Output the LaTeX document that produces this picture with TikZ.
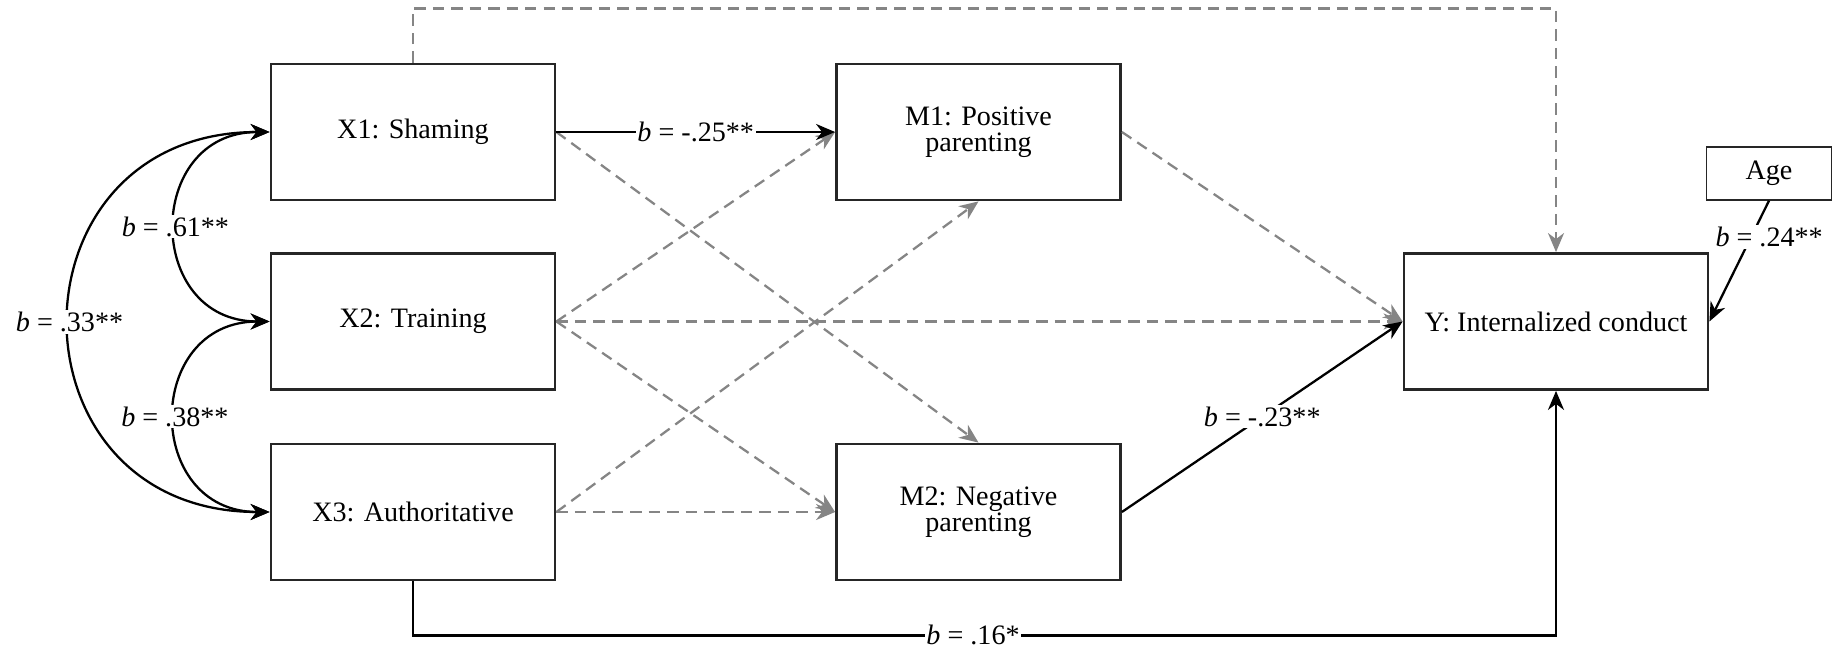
\documentclass[tikz,border=0pt]{standalone}
\usepackage{fontspec}
\setmainfont{Liberation Serif}
\usetikzlibrary{calc,positioning,arrows.meta}
\definecolor{edge}{HTML}{262626}
\definecolor{nsgray}{HTML}{858585}
\tikzset{
  vbx/.style={draw=edge,line width=1.6pt,minimum width=#1,minimum height=2.72cm,align=center,font=\fontsize{16}{14.8}\selectfont},
  vbx/.default=5.68cm,
  flow/.style={-{Stealth[length=3.8mm,width=3.2mm,inset=1.2mm]},black,line width=1.3pt},
  flowns/.style={-{Stealth[length=3.8mm,width=3.2mm,inset=1.2mm]},nsgray,line width=1.3pt,dash pattern=on 6.5pt off 4pt},
  flow2/.style={{Stealth[length=3.8mm,width=3.2mm,inset=1.2mm]}-{Stealth[length=3.8mm,width=3.2mm,inset=1.2mm]},black,line width=1.3pt},
  coef/.style={fill=white,inner sep=1pt,font=\fontsize{16}{16}\selectfont},
}

\begin{document}
\begin{tikzpicture}
\useasboundingbox (0,0) rectangle (36.68,12.92);
% predictors, mediators, outcome
\node[vbx] (x1) at (8.26,10.28) {X1: Shaming};
\node[vbx] (x2) at (8.26,6.49) {X2: Training};
\node[vbx] (x3) at (8.26,2.68) {X3: Authoritative};
\node[vbx] (m1) at (19.57,10.28) {M1: Positive\\parenting};
\node[vbx] (m2) at (19.57,2.68) {M2: Negative\\parenting};
\node[vbx=6.08cm] (y) at (31.12,6.49) {Y: Internalized conduct};
\node[vbx=2.5cm,minimum height=1.06cm,line width=0.8pt] (age) at (35.38,9.45) {Age};
% non-significant paths
\draw[flowns] (x1.east) -- (m2.north);
\draw[flowns] (x2.east) -- (m1.west);
\draw[flowns] (x2.east) -- (m2.west);
\draw[flowns] (x2.east) -- (y.west);
\draw[flowns] (x3.east) -- (m1.south);
\draw[flowns] (x3.east) -- (m2.west);
\draw[flowns] (m1.east) -- (y.west);
\draw[flowns] (x1.north) -- ++(0,1.08) -| (y.north);
% significant paths
\draw[flow] (x1) -- node[coef]{\textit{b} = -.25**} (m1);
\draw[flow] (m2.east) -- node[coef]{\textit{b} = -.23**} (y.west);
\draw[flow] (x3.south) -- ++(0,-1.08) -| node[coef,pos=0.245]{\textit{b} = .16*} (y.south);
\draw[flow] (age.south) -- node[coef,pos=0.3,xshift=0.36cm]{\textit{b} = .24**} (y.east);
% covariances
\draw[flow2] (x1.west) to[out=180,in=180,looseness=1.7] node[coef]{\textit{b} = .61**} (x2.west);
\draw[flow2] (x2.west) to[out=180,in=180,looseness=1.7] node[coef]{\textit{b} = .38**} (x3.west);
\draw[flow2] (x1.west) to[out=180,in=180,looseness=1.8] node[coef]{\textit{b} = .33**} (x3.west);
\end{tikzpicture}
\end{document}
